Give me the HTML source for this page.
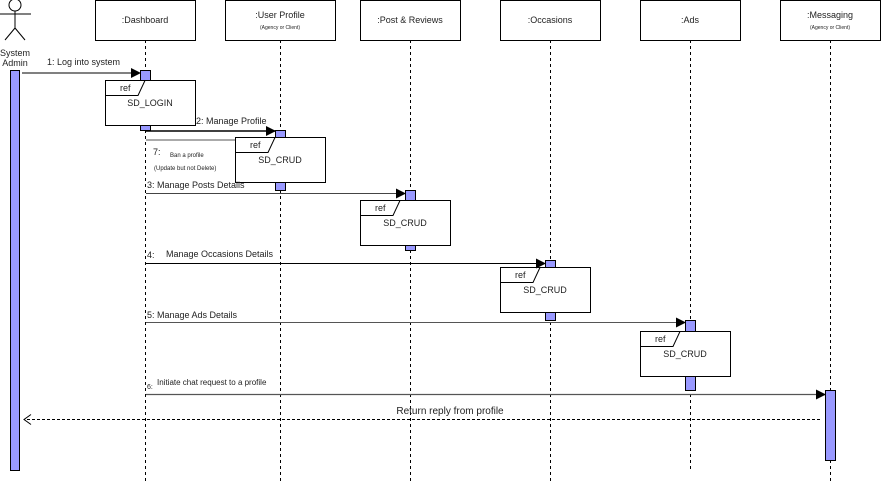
<!DOCTYPE html>
<html><head><meta charset="utf-8"><style>html,body{margin:0;padding:0;background:#fff}svg{display:block}text{font-family:"Liberation Sans",sans-serif;fill:#222}</style></head>
<body>
<svg width="881" height="481" viewBox="0 0 881 481" xmlns="http://www.w3.org/2000/svg">
<defs><marker id="a" markerWidth="10" markerHeight="10" refX="9" refY="5" orient="auto" markerUnits="userSpaceOnUse"><path d="M0,0 L10,5 L0,10 Z" fill="#000"/></marker></defs>
<g stroke="#000" stroke-dasharray="3,3" stroke-width="1">
<line x1="145.5" y1="40" x2="145.5" y2="481"/>
<line x1="280.5" y1="40" x2="280.5" y2="481"/>
<line x1="410.5" y1="40" x2="410.5" y2="481"/>
<line x1="550.5" y1="40" x2="550.5" y2="481"/>
<line x1="690.5" y1="40" x2="690.5" y2="470"/>
<line x1="830.5" y1="40" x2="830.5" y2="481"/>
</g>
<g fill="#fff" stroke="#000">
<rect x="95.5" y="0.5" width="100" height="40"/>
<rect x="225.5" y="0.5" width="110" height="40"/>
<rect x="360.5" y="0.5" width="100" height="40"/>
<rect x="500.5" y="0.5" width="100" height="40"/>
<rect x="640.5" y="0.5" width="100" height="40"/>
<rect x="780.5" y="0.5" width="100" height="40"/>
</g>
<g font-size="9" text-anchor="middle">
<text x="145" y="23">:Dashboard</text>
<text x="280" y="18">:User Profile</text>
<text x="280" y="29" font-size="5">(Agency or Client)</text>
<text x="410" y="23">:Post &amp; Reviews</text>
<text x="550" y="23">:Occasions</text>
<text x="690" y="23">:Ads</text>
<text x="830" y="18">:Messaging</text>
<text x="830" y="29" font-size="5">(Agency or Client)</text>
<text x="15" y="56">System</text>
<text x="15" y="66">Admin</text>
</g>
<g stroke="#000" fill="none">
<circle cx="15" cy="5" r="6" fill="#fff"/>
<line x1="15" y1="11" x2="15" y2="28"/>
<line x1="0" y1="14" x2="31" y2="14"/>
<line x1="15" y1="28" x2="5" y2="40"/>
<line x1="15" y1="28" x2="25" y2="40"/>
</g>
<g fill="#9999ff" stroke="#000">
<rect x="10.5" y="70.5" width="9" height="400"/>
<rect x="140.5" y="70.5" width="10" height="10"/>
<rect x="140.5" y="122.5" width="10" height="8"/>
<rect x="275.5" y="130.5" width="10" height="60"/>
<rect x="405.5" y="190.5" width="10" height="60"/>
<rect x="545.5" y="260.5" width="10" height="60"/>
<rect x="685.5" y="320.5" width="10" height="70"/>
<rect x="825.5" y="390.5" width="10" height="70"/>
</g>
<g stroke="#000" fill="#fff">
<rect x="105.5" y="80.5" width="90" height="45"/>
<path d="M105.5,95.5 H138 L145,80.5" fill="none"/>
<rect x="235.5" y="137.5" width="90" height="45"/>
<path d="M235.5,152.5 H268 L275,137.5" fill="none"/>
<rect x="360.5" y="200.5" width="90" height="45"/>
<path d="M360.5,215.5 H393 L400,200.5" fill="none"/>
<rect x="500.5" y="267.5" width="90" height="45"/>
<path d="M500.5,282.5 H533 L540,267.5" fill="none"/>
<rect x="640.5" y="331.5" width="90" height="45"/>
<path d="M640.5,346.5 H673 L680,331.5" fill="none"/>
</g>
<g font-size="9">
<text x="120" y="91">ref</text><text x="150" y="106" text-anchor="middle">SD_LOGIN</text>
<text x="250" y="148">ref</text><text x="280" y="163" text-anchor="middle">SD_CRUD</text>
<text x="375" y="211">ref</text><text x="405" y="226" text-anchor="middle">SD_CRUD</text>
<text x="515" y="278">ref</text><text x="545" y="293" text-anchor="middle">SD_CRUD</text>
<text x="655" y="342">ref</text><text x="685" y="357" text-anchor="middle">SD_CRUD</text>
</g>
<g stroke="#000" stroke-width="1">
<line x1="22" y1="73" x2="140" y2="73" marker-end="url(#a)"/>
<line x1="146" y1="131" x2="275" y2="131" marker-end="url(#a)" stroke-width="1.5"/>
<line x1="146" y1="140" x2="235" y2="140" stroke="#555"/>
<line x1="146" y1="193.5" x2="405" y2="193.5" marker-end="url(#a)" stroke="#444"/>
<line x1="146" y1="263.5" x2="545" y2="263.5" marker-end="url(#a)"/>
<line x1="146" y1="322.5" x2="685" y2="322.5" marker-end="url(#a)" stroke="#555"/>
<line x1="146" y1="394.5" x2="825" y2="394.5" marker-end="url(#a)" stroke="#555" stroke-width="1.2"/>
<line x1="820" y1="419.5" x2="24" y2="419.5" stroke-dasharray="3,2"/>
<path d="M31,414.5 L24,419.5 L31,424.5" fill="none"/>
</g>
<g font-size="9">
<text x="47" y="65">1: Log into system</text>
<text x="196" y="124">2: Manage Profile</text>
<text x="153" y="155">7:</text>
<text x="170" y="157" font-size="6">Ban a profile</text>
<text x="154" y="170" font-size="6">(Update but not Delete)</text>
<text x="147" y="188">3:  Manage Posts Details</text>
<text x="147" y="258">4:</text>
<text x="166" y="257">Manage Occasions Details</text>
<text x="147" y="318">5: Manage Ads Details</text>
<text x="147" y="389" font-size="7">6:</text>
<text x="157" y="385" font-size="8">Initiate chat request to a profile</text>
<text x="450" y="414" font-size="10" text-anchor="middle">Return reply from profile</text>
</g>
</svg>
</body></html>
